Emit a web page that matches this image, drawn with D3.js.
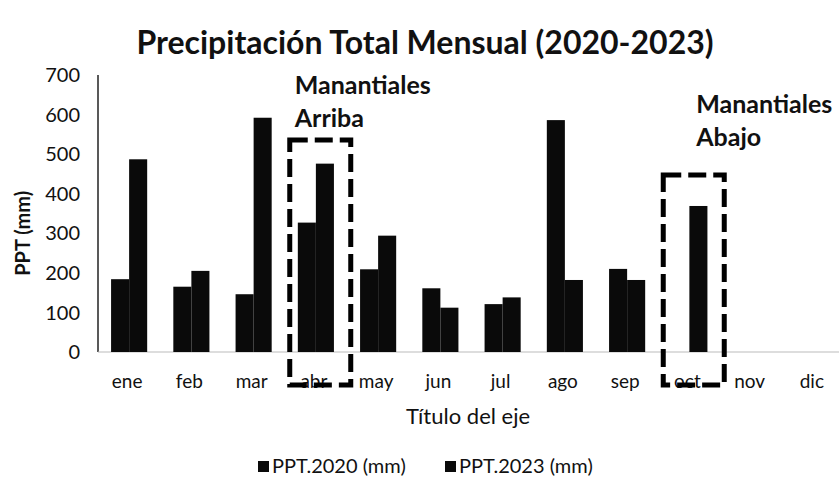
<!DOCTYPE html>
<html>
<head>
<meta charset="utf-8">
<script src="https://cdn.jsdelivr.net/npm/d3@7"></script>
<style>
  body { margin: 0; background: #fff; }
  text { font-family: Lato, "Open Sans", sans-serif; fill: #111; }
</style>
</head>
<body>
<div id="chart"></div>
<script>
const months = ["ene", "feb", "mar", "abr", "may", "jun", "jul", "ago", "sep", "oct", "nov", "dic"];
const ppt2020 = [184, 165, 146, 327, 209, 161, 121, 586, 210, 0, null, null];
const ppt2023 = [487, 205, 592, 476, 294, 112, 138, 182, 182, 369, null, null];
const seriesNames = ["PPT.2020 (mm)", "PPT.2023 (mm)"];
const yTicks = [0, 100, 200, 300, 400, 500, 600, 700];
// dashed boxes drawn on the chart
const boxes = [
  { month: "abr", top: 536, lines: ["Manantiales", "Arriba"] },
  { month: "oct", top: 447, lines: ["Manantiales", "Abajo"] }
];

const width = 839;
const height = 497;
const margin = { left: 98, right: -6, top: 75, bottom: 145 };

const svg = d3.select("#chart")
  .append("svg")
  .attr("width", width)
  .attr("height", height);

const x = d3.scaleBand()
  .domain(months)
  .range([margin.left, width - margin.right])
  .paddingInner(0.42)
  .paddingOuter(0.21);

const xSub = d3.scaleBand()
  .domain([0, 1])
  .range([0, x.bandwidth()]);

const y = d3.scaleLinear()
  .domain([0, 700])
  .range([height - margin.bottom, margin.top]);

// title
svg.append("text")
  .attr("x", 425)
  .attr("y", 54)
  .attr("text-anchor", "middle")
  .style("font-size", "32px")
  .style("font-weight", "bold")
  .text("Precipitación Total Mensual (2020-2023)");

// y axis line
svg.append("line")
  .attr("x1", margin.left).attr("x2", margin.left)
  .attr("y1", y(700)).attr("y2", y(0))
  .attr("stroke", "#222").attr("stroke-width", 1.5);

// baseline
svg.append("line")
  .attr("x1", margin.left).attr("x2", width)
  .attr("y1", y(0)).attr("y2", y(0))
  .attr("stroke", "#bbb").attr("stroke-width", 1);

svg.selectAll(".ytick")
  .data(yTicks)
  .enter()
  .append("text")
  .attr("class", "ytick")
  .attr("x", 80)
  .attr("y", d => y(d))
  .attr("dy", "0.36em")
  .attr("text-anchor", "end")
  .style("font-size", "20px")
  .text(d => d);

svg.append("text")
  .attr("transform", `translate(30,${y(300)}) rotate(-90)`)
  .attr("text-anchor", "middle")
  .style("font-size", "20px")
  .style("font-weight", "bold")
  .text("PPT (mm)");

// bars
const rows = months.map((m, i) => ({ month: m, values: [ppt2020[i], ppt2023[i]] }));

const groups = svg.selectAll(".group")
  .data(rows)
  .enter()
  .append("g")
  .attr("transform", d => `translate(${x(d.month)},0)`);

groups.selectAll("rect")
  .data(d => d.values.map((v, k) => ({ k, v })).filter(e => e.v))
  .enter()
  .append("rect")
  .attr("x", d => xSub(d.k))
  .attr("width", xSub.bandwidth())
  .attr("y", d => y(d.v))
  .attr("height", d => y(0) - y(d.v))
  .attr("fill", "#0a0a0a");

// x labels
svg.selectAll(".xtick")
  .data(months)
  .enter()
  .append("text")
  .attr("class", "xtick")
  .attr("x", d => x(d) + x.bandwidth() / 2 - 2)
  .attr("y", 388)
  .attr("text-anchor", "middle")
  .style("font-size", "19px")
  .text(d => d);

svg.append("text")
  .attr("x", 468)
  .attr("y", 424)
  .attr("text-anchor", "middle")
  .style("font-size", "22px")
  .text("Título del eje");

// annotation boxes
boxes.forEach((b, i) => {
  const x0 = x(b.month) - x.step() * 0.21 + 5;
  svg.append("rect")
    .attr("x", x0)
    .attr("y", y(b.top))
    .attr("width", 61)
    .attr("height", 385 - y(b.top))
    .attr("fill", "none")
    .attr("stroke", "#000")
    .attr("stroke-width", 5)
    .attr("stroke-dasharray", "18,7");

  const tx = i === 0 ? x0 + 5 : x0 + 33;
  const ty = i === 0 ? 94 : 113;
  b.lines.forEach((line, j) => {
    svg.append("text")
      .attr("x", tx)
      .attr("y", ty + j * 33)
      .style("font-size", "25px")
      .style("font-weight", "bold")
      .text(line);
  });
});

// legend
const legend = svg.append("g");
const legendX = [258, 445];
seriesNames.forEach((name, i) => {
  legend.append("rect")
    .attr("x", legendX[i]).attr("y", 461)
    .attr("width", 11).attr("height", 11)
    .attr("fill", "#0a0a0a");
  legend.append("text")
    .attr("x", legendX[i] + 14)
    .attr("y", 473)
    .style("font-size", "20px")
    .text(name);
});
</script>
</body>
</html>
